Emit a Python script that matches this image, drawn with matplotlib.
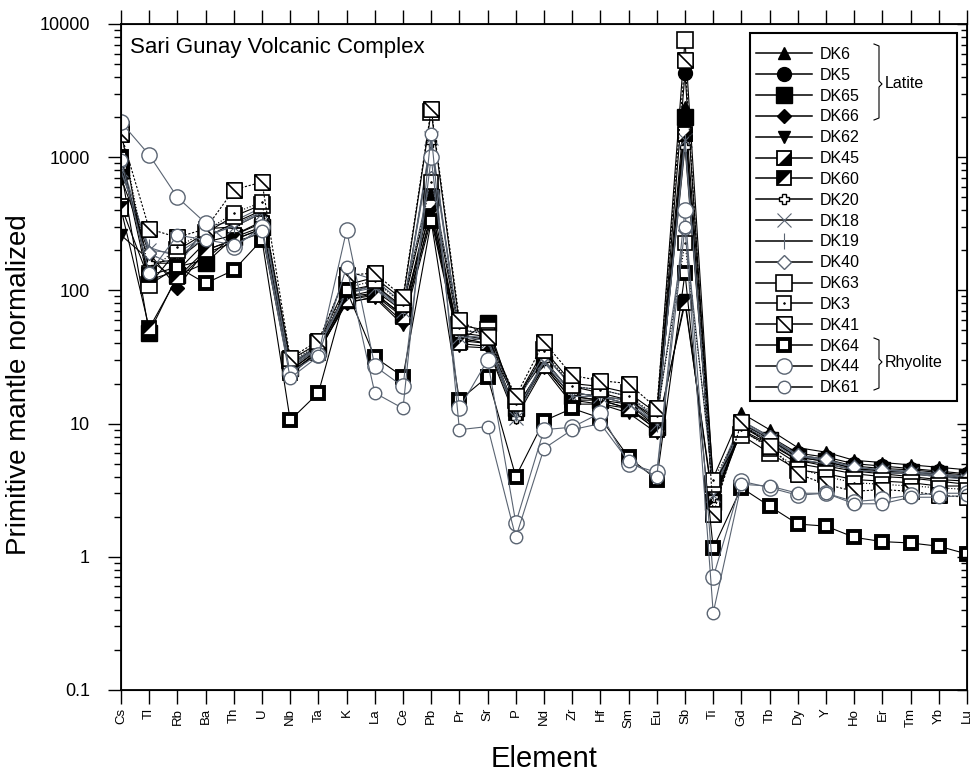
import numpy as np
import matplotlib
matplotlib.use("Agg")
import matplotlib.pyplot as plt
from matplotlib.path import Path
from matplotlib.lines import Line2D
from matplotlib.patches import Rectangle
from matplotlib.legend_handler import HandlerTuple
from matplotlib.ticker import FixedLocator, FixedFormatter, LogLocator, NullFormatter

plt.rcParams['font.family'] = ['Liberation Sans', 'DejaVu Sans']

elements = ['Cs', 'Tl', 'Rb', 'Ba', 'Th', 'U', 'Nb', 'Ta', 'K', 'La', 'Ce', 'Pb', 'Pr', 'Sr', 'P',
            'Nd', 'Zr', 'Hf', 'Sm', 'Eu', 'Sb', 'Ti', 'Gd', 'Tb', 'Dy', 'Y', 'Ho', 'Er', 'Tm', 'Yb', 'Lu']

# primitive-mantle normalised values
DK6  = [900, 160, 160, 290, 300, 380, 28, 38, 95, 110, 75, 600, 48, 45, 15, 33, 19, 17, 15, 11, 2380, 3.9,
        12, 9.0, 6.6, 6.1, 5.3, 5.1, 4.9, 4.7, 4.5]
DK5  = [990, 110, 150, 170, 260, 330, 25, 36, 90, 100, 70, 420, 44, 40, 15, 30, 17, 16, 14, 10, 4290, 3.0,
        10.5, 8.0, 6.0, 5.6, 5.0, 4.8, 4.6, 4.4, 4.2]
DK65 = [800, 48, 130, 160, 250, 300, 26, 37, 85, 95, 65, 500, 42, 57, 13, 28, 16, 15, 13, 9.5, 2000, 2.6,
        9.5, 7.5, 5.6, 5.2, 4.6, 4.5, 4.3, 4.2, 4.0]
DK66 = [700, 190, 105, 200, 240, 290, 24, 35, 80, 90, 58, 380, 40, 38, 12, 27, 15, 15, 13, 9, 1800, 2.5,
        10, 7.8, 5.8, 5.4, 4.8, 4.6, 4.5, 4.3, 4.1]
DK62 = [260, 170, 120, 190, 230, 270, 23, 35, 82, 88, 55, 340, 38, 37, 11, 26, 14, 14, 12, 8.5, 85, 2.4,
        9.0, 7.0, 5.3, 5.0, 4.5, 4.3, 4.2, 4.0, 3.9]
DK45 = [430, 120, 140, 230, 260, 320, 25, 36, 90, 95, 65, 420, 42, 40, 13, 28, 16, 15, 14, 9.5, 1500, 2.6,
        9.5, 7.2, 5.3, 4.8, 4.4, 4.2, 4.0, 3.8, 3.7]
DK60 = [410, 52, 125, 200, 240, 290, 24, 34, 85, 92, 63, 360, 40, 45, 12, 27, 15, 14, 13, 9, 80, 2.6,
        8.8, 6.8, 5.0, 4.6, 4.2, 4.0, 3.9, 3.7, 3.5]
DK20 = [850, 160, 170, 250, 320, 400, 27, 38, 100, 110, 72, 1300, 46, 43, 11, 30, 17, 16, 15, 10.5, 1200, 2.8,
        10, 7.7, 5.6, 5.2, 4.6, 4.4, 4.3, 4.1, 3.9]
DK18 = [800, 200, 190, 260, 300, 380, 26, 37, 95, 105, 70, 1400, 45, 42, 11, 29, 16, 16, 14, 10, 1350, 2.9,
        9.8, 7.5, 5.4, 5.0, 4.5, 4.3, 4.2, 4.0, 3.8]
DK19 = [780, 210, 180, 250, 310, 390, 27, 38, 97, 108, 72, 1200, 46, 44, 12, 30, 17, 16, 15, 10, 1300, 3.0,
        10.2, 7.8, 5.7, 5.3, 4.7, 4.5, 4.4, 4.2, 4.0]
DK40 = [950, 190, 150, 300, 330, 420, 28, 39, 140, 120, 80, 700, 50, 48, 14, 33, 19, 18, 16, 11, 284, 3.3,
        10.5, 8.0, 5.8, 5.4, 4.7, 4.5, 4.3, 4.1, 3.9]
DK63 = [1600, 110, 200, 270, 360, 440, 30, 40, 110, 125, 85, 2200, 55, 50, 15, 36, 20, 19, 17, 12, 7580, 3.5,
        8.2, 6.0, 4.5, 4.2, 3.8, 3.7, 3.6, 3.4, 3.4]
DK3  = [1550, 135, 210, 280, 380, 460, 29, 39, 105, 118, 78, 650, 52, 46, 14, 35, 19, 18, 16, 11.5, 227, 3.8,
        9.0, 6.5, 4.6, 4.0, 3.6, 3.5, 3.4, 3.3, 3.2]
DK41 = [1500, 290, 250, 290, 570, 650, 31, 42, 130, 135, 89, 2300, 60, 45, 16, 41, 23, 21, 20, 13, 5370, 2.1,
        10.2, 6.8, 4.2, 3.5, 3.1, 3.2, 3.1, 2.9, 2.8]
DK64 = [1000, 130, 150, 113, 142, 240, 10.6, 17, 100, 31.5, 22.5, 330, 15, 22.5, 4.0, 10.5, 13, 11, 5.6, 3.8,
        135, 1.16, 3.3, 2.4, 1.76, 1.7, 1.4, 1.3, 1.27, 1.2, 1.05]
DK44 = [1830, 1040, 500, 320, 210, 300, 24, 33, 283, 27, 19, 1000, 13, 30, 1.8, 9, 9.4, 12, 5.0, 4.3, 400, 0.70,
        3.7, 3.3, 2.9, 3.0, 2.6, 2.7, 2.9, 3.0, 3.0]
DK61 = [950, 135, 260, 240, 220, 280, 22, 32, 150, 17, 13, 1500, 9, 9.5, 1.4, 6.5, 9, 10, 5.2, 4.0, 300, 0.38,
        3.5, 3.4, 3.0, 3.0, 2.5, 2.5, 2.8, 2.8, 2.9]

samples = ['DK6', 'DK5', 'DK65', 'DK66', 'DK62', 'DK45', 'DK60', 'DK20', 'DK18', 'DK19',
           'DK40', 'DK63', 'DK3', 'DK41', 'DK64', 'DK44', 'DK61']
values = [DK6, DK5, DK65, DK66, DK62, DK45, DK60, DK20, DK18, DK19,
          DK40, DK63, DK3, DK41, DK64, DK44, DK61]

# custom marker shapes
sq_diag = Path([(-1, -1), (1, -1), (1, 1), (-1, 1), (-1, -1), (-1, 1), (1, -1)],
               [Path.MOVETO, Path.LINETO, Path.LINETO, Path.LINETO, Path.CLOSEPOLY, Path.MOVETO, Path.LINETO])
tri_lr = [(-1, -1), (1, -1), (1, 1)]
tri_ul = [(-1, -1), (-1, 1), (1, 1)]

K = 'black'
G = '#5a6472'
W = 'white'
# each sample: line colour, line style, list of (marker, face, edge, size, edge width)
styles = {
    'DK6':  (K, '-', [('^', K, K, 9, 1)]),
    'DK5':  (K, '-', [('o', K, K, 10, 1)]),
    'DK65': (K, '-', [('s', K, K, 11, 1)]),
    'DK66': (K, '-', [('D', K, K, 7, 1)]),
    'DK62': (K, '-', [('v', K, K, 9, 1)]),
    'DK45': (K, '-', [('s', W, K, 10, 1.3), (tri_lr, K, K, 10, 0.5)]),
    'DK60': (K, '-', [('s', W, K, 10, 1.3), (tri_ul, K, K, 10, 0.5)]),
    'DK20': (K, '-', [('P', W, K, 7, 1)]),
    'DK18': (G, '-', [('x', G, G, 10, 0.8)]),
    'DK19': (G, '-', [('|', G, G, 11, 0.8)]),
    'DK40': (G, '-', [('D', W, G, 7, 1)]),
    'DK63': (K, '-', [('s', W, K, 11, 1.2)]),
    'DK3':  (K, ':', [('s', W, K, 10, 1.2), ('.', K, K, 2.5, 0.5)]),
    'DK41': (K, (0, (2, 1.5)), [(sq_diag, W, K, 11, 1.2)]),
    'DK64': (K, '-', [('s', W, K, 9, 2.8)]),
    'DK44': (G, '-', [('o', W, G, 11, 1)]),
    'DK61': (G, '-', [('o', W, G, 9, 1)]),
}

fig = plt.figure(figsize=(9.72, 7.72), dpi=100)
W_PX, H_PX = 972, 772
L, R, T, B = 121, 967, 24, 690
ax = fig.add_axes([L / W_PX, 1 - B / H_PX, (R - L) / W_PX, (B - T) / H_PX])

def pax(px, py):
    return (px - L) / (R - L), (B - py) / (B - T)

x = np.arange(len(elements))
handles = []
for name, vals in zip(samples, values):
    lc, ls, marks = styles[name]
    m0 = marks[0]
    ax.plot(x, vals, color=lc, lw=0.8, ls=ls, marker=m0[0], mfc=m0[1], mec=m0[2],
            ms=m0[3], mew=m0[4], zorder=3)
    for m in marks[1:]:
        ax.plot(x, vals, ls='none', marker=m[0], mfc=m[1], mec=m[2], ms=m[3], mew=m[4], zorder=3)
    # legend entries drawn with solid lines
    hl = [Line2D([], [], color='black', lw=1.1, ls='-', marker=m0[0], mfc=m0[1], mec=m0[2],
                 ms=m0[3], mew=m0[4])]
    for m in marks[1:]:
        hl.append(Line2D([], [], ls='none', marker=m[0], mfc=m[1], mec=m[2], ms=m[3], mew=m[4]))
    handles.append(tuple(hl))

ax.set_yscale('log')
ax.set_ylim(0.1, 10000)
ax.set_xlim(0, len(elements) - 1)
ax.set_xticks(x)
ax.set_xticklabels(elements, rotation=90, fontsize=9.5)
ax.yaxis.set_major_locator(FixedLocator([0.1, 1, 10, 100, 1000, 10000]))
ax.yaxis.set_major_formatter(FixedFormatter(['0.1', '1', '10', '100', '1000', '10000']))
ax.yaxis.set_minor_locator(LogLocator(base=10, subs=np.arange(2, 10)))
ax.yaxis.set_minor_formatter(NullFormatter())
ax.tick_params(axis='x', which='major', direction='out', length=10, width=1, top=True, pad=3)
ax.tick_params(axis='y', which='major', direction='out', length=9.5, width=1, labelsize=13, pad=13)
ax.tick_params(axis='y', which='minor', direction='out', length=5, width=1)
for s in ax.spines.values():
    s.set_linewidth(1.3)

ax2 = ax.twinx()
ax2.set_yscale('log')
ax2.set_ylim(0.1, 10000)
ax2.yaxis.set_major_locator(FixedLocator([0.1, 1, 10, 100, 1000, 10000]))
ax2.yaxis.set_minor_locator(LogLocator(base=10, subs=np.arange(2, 10)))
ax2.yaxis.set_major_formatter(NullFormatter())
ax2.yaxis.set_minor_formatter(NullFormatter())
ax2.tick_params(axis='y', which='major', direction='in', length=7, width=1)
ax2.tick_params(axis='y', which='minor', direction='in', length=4, width=1)

ax.set_xlabel('Element', fontsize=21)
ax.xaxis.set_label_coords(0.5, -0.083)
ax.set_ylabel('Primitive mantle normalized', fontsize=20)
ax.yaxis.set_label_coords(-0.105, 0.458)

tx, ty = pax(130, 37)
ax.text(tx, ty, 'Sari Gunay Volcanic Complex', transform=ax.transAxes, fontsize=16,
        ha='left', va='top')

# legend
lx, ly = pax(756, 47)
ax.legend(handles, samples, handler_map={tuple: HandlerTuple(ndivide=1, pad=0)},
          loc='upper left', bbox_to_anchor=(lx, ly), frameon=False, fontsize=11.5,
          borderpad=0, borderaxespad=0, handlelength=3.5, handletextpad=0.5,
          labelspacing=0.365)
x0, y0 = pax(750, 401)
x1, y1 = pax(957, 33)
ax.add_patch(Rectangle((x0, y0), x1 - x0, y1 - y0, transform=ax.transAxes, fill=False,
                       lw=1.5, ec='black', clip_on=False, zorder=5))

def brace(top, mid, bot):
    pts = [(874, top), (879, top + 2), (879, mid - 3), (882, mid), (879, mid + 3),
           (879, bot - 2), (874, bot)]
    bx, by = zip(*[pax(p, q) for p, q in pts])
    ax.plot(bx, by, color='black', lw=0.8, transform=ax.transAxes, clip_on=False, zorder=5)

brace(44, 84, 120)
brace(338, 362, 390)
ax.text(*pax(885, 84), 'Latite', transform=ax.transAxes, fontsize=11.5, va='center', ha='left')
ax.text(*pax(885, 362), 'Rhyolite', transform=ax.transAxes, fontsize=11.5, va='center', ha='left')

fig.savefig('out.png', dpi=100)
